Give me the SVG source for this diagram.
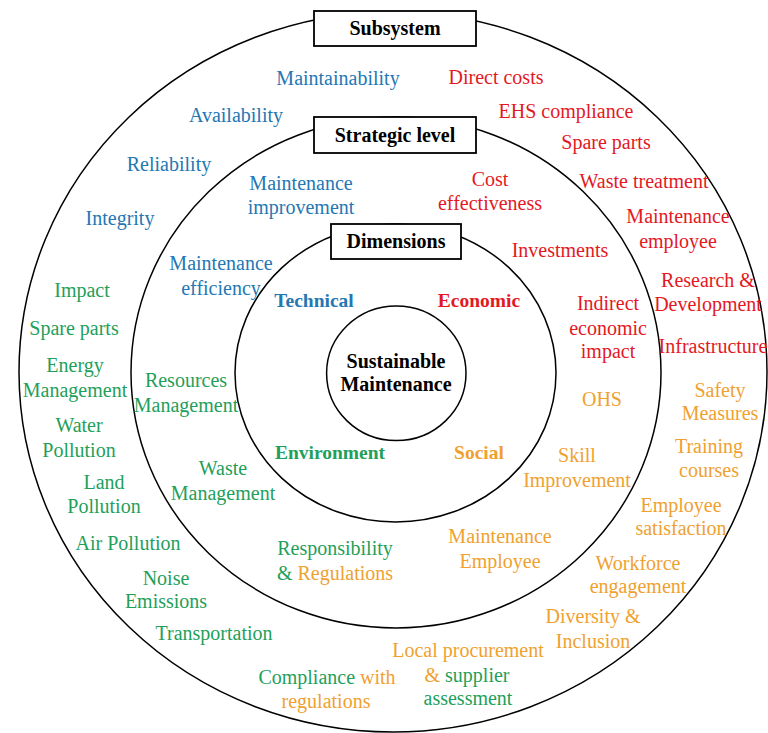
<svg xmlns="http://www.w3.org/2000/svg" width="768" height="733" viewBox="0 0 768 733">
<style>
.ring{fill:none;stroke:#000;stroke-width:1.5}
.box{fill:#fff;stroke:#000;stroke-width:1.8}
text{font-family:"Liberation Serif","Times New Roman",serif;font-size:20px;text-anchor:middle}
.h{font-weight:bold;fill:#000}
.d{font-weight:bold;font-size:19.5px}
.b{fill:#2477B3}
.r{fill:#E3191F}
.g{fill:#1FA05A}
.o{fill:#EFA130}
</style>
<rect width="768" height="733" fill="#fff"/>
<g id="rings">
<g id="ring-subsystem"><ellipse class="ring" cx="393" cy="372" rx="374" ry="360"/></g>
<g id="ring-strategic"><ellipse class="ring" cx="396" cy="372.5" rx="265" ry="255.5"/></g>
<g id="ring-dimensions"><ellipse class="ring" cx="395.5" cy="373" rx="160.5" ry="149"/></g>
</g>
<g id="core"><ellipse class="ring" cx="396.3" cy="373.3" rx="69.7" ry="67.3"/>
<text class="h" x="396" y="368">Sustainable</text><text class="h" x="396" y="391">Maintenance</text></g>
<g id="box-subsystem"><rect class="box" x="314" y="11" width="162" height="35"/><text class="h" x="395" y="35">Subsystem</text></g>
<g id="box-strategic"><rect class="box" x="314" y="117" width="162" height="36"/><text class="h" x="395" y="142">Strategic level</text></g>
<g id="box-dimensions"><rect class="box" x="331" y="224" width="130" height="35"/><text class="h" x="396" y="248">Dimensions</text></g>
<g id="dims">
<text class="d b" x="314" y="307">Technical</text>
<text class="d r" x="479" y="307">Economic</text>
<text class="d g" x="330" y="459">Environment</text>
<text class="d o" x="479" y="459">Social</text>
</g>
<g id="technical">
<text class="b" x="338" y="85">Maintainability</text>
<text class="b" x="236" y="122">Availability</text>
<text class="b" x="169" y="171">Reliability</text>
<text class="b" x="120" y="225">Integrity</text>
<text class="b" x="301" y="190">Maintenance</text><text class="b" x="301" y="214">improvement</text>
<text class="b" x="221" y="270">Maintenance</text><text class="b" x="221" y="295">efficiency</text>
</g>
<g id="economic">
<text class="r" x="496" y="84">Direct costs</text>
<text class="r" x="566" y="118">EHS compliance</text>
<text class="r" x="606" y="149">Spare parts</text>
<text class="r" x="644" y="188">Waste treatment</text>
<text class="r" x="678" y="223">Maintenance</text><text class="r" x="678" y="248">employee</text>
<text class="r" x="708" y="287">Research &amp;</text><text class="r" x="708" y="311">Development</text>
<text class="r" x="713" y="353">Infrastructure</text>
<text class="r" x="490" y="186">Cost</text><text class="r" x="490" y="210">effectiveness</text>
<text class="r" x="560" y="257">Investments</text>
<text class="r" x="608" y="310">Indirect</text><text class="r" x="608" y="335">economic</text><text class="r" x="608" y="358">impact</text>
</g>
<g id="social">
<text class="o" x="602" y="406">OHS</text>
<text class="o" x="577" y="462">Skill</text><text class="o" x="577" y="487">Improvement</text>
<text class="o" x="720" y="397">Safety</text><text class="o" x="720" y="420">Measures</text>
<text class="o" x="709" y="453">Training</text><text class="o" x="709" y="477">courses</text>
<text class="o" x="681" y="512">Employee</text><text class="o" x="681" y="535">satisfaction</text>
<text class="o" x="638" y="570">Workforce</text><text class="o" x="638" y="593">engagement</text>
<text class="o" x="593" y="623">Diversity &amp;</text><text class="o" x="593" y="648">Inclusion</text>
<text class="o" x="500" y="543">Maintenance</text><text class="o" x="500" y="568">Employee</text>
<text class="o" x="468" y="657">Local procurement</text>
<text x="467" y="682"><tspan class="o">&amp;</tspan><tspan class="g"> supplier</tspan></text>
<text class="g" x="468" y="705">assessment</text>
</g>
<g id="environment">
<text class="g" x="82" y="297">Impact</text>
<text class="g" x="74" y="335">Spare parts</text>
<text class="g" x="75" y="372">Energy</text><text class="g" x="75" y="397">Management</text>
<text class="g" x="79" y="432">Water</text><text class="g" x="79" y="457">Pollution</text>
<text class="g" x="104" y="489">Land</text><text class="g" x="104" y="513">Pollution</text>
<text class="g" x="128" y="550">Air Pollution</text>
<text class="g" x="166" y="585">Noise</text><text class="g" x="166" y="608">Emissions</text>
<text class="g" x="214" y="640">Transportation</text>
<text class="g" x="186" y="387">Resources</text><text class="g" x="186" y="412">Management</text>
<text class="g" x="223" y="475">Waste</text><text class="g" x="223" y="500">Management</text>
<text class="g" x="335" y="555">Responsibility</text>
<text x="335" y="580"><tspan class="g">&amp;</tspan><tspan class="o"> Regulations</tspan></text>
<text x="327" y="684"><tspan class="g">Compliance</tspan><tspan class="o"> with</tspan></text>
<text class="o" x="326" y="708">regulations</text>
</g>
</svg>
